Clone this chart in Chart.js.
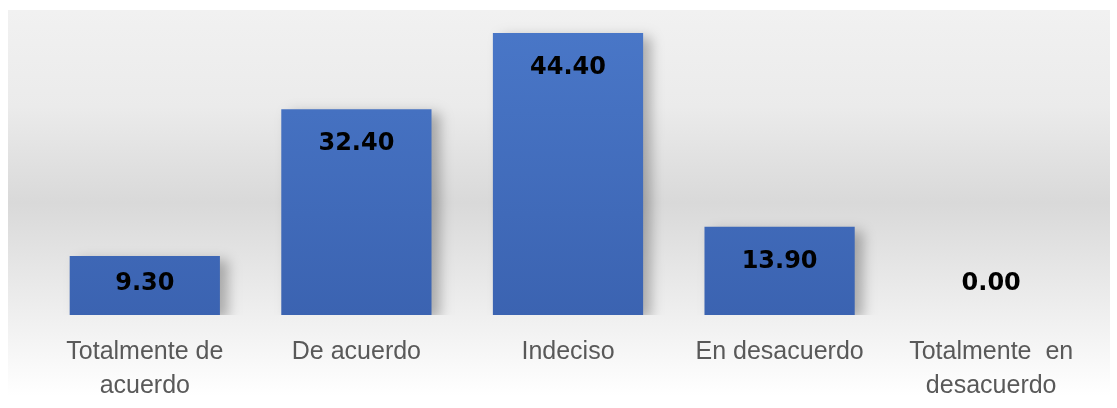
<!DOCTYPE html>
<html>
<head>
<meta charset="utf-8">
<script src="https://cdn.jsdelivr.net/npm/chart.js@4.4.1/dist/chart.umd.min.js"></script>
<style>
  html, body { margin: 0; padding: 0; background: #fff; }
  #wrap { width: 1117px; height: 408px; }
</style>
</head>
<body>
<div id="wrap"><canvas id="barChart"></canvas></div>
<script>
// datos del gráfico
const categorias = [
    ['Totalmente de', 'acuerdo'],
    'De acuerdo',
    'Indeciso',
    'En desacuerdo',
    ['Totalmente  en', 'desacuerdo']
];
const porcentajes = [9.30, 32.40, 44.40, 13.90, 0.00];

// fondo degradado gris detrás del gráfico
const fondoPlugin = {
    id: 'fondo',
    beforeDraw(chart) {
        const ctx = chart.ctx;
        const g = ctx.createLinearGradient(0, 10, 0, 396);
        g.addColorStop(0, '#f1f1f1');
        g.addColorStop(0.25, '#ebebeb');
        g.addColorStop(0.5, '#d9d9d9');
        g.addColorStop(0.75, '#ececec');
        g.addColorStop(1, '#ffffff');
        ctx.save();
        ctx.fillStyle = g;
        ctx.fillRect(8, 10, 1102, 386);
        ctx.restore();
    }
};

// sombra suave de las barras
const sombraPlugin = {
    id: 'sombra',
    beforeDatasetDraw(chart) {
        const ctx = chart.ctx;
        ctx.save();
        ctx.shadowColor = 'rgba(0,0,0,0.28)';
        ctx.shadowBlur = 12;
        ctx.shadowOffsetX = 8;
        ctx.shadowOffsetY = 4;
    },
    afterDatasetDraw(chart) {
        chart.ctx.restore();
    }
};

// etiquetas de valor dentro de las barras
const etiquetasPlugin = {
    id: 'etiquetas',
    afterDatasetsDraw(chart) {
        const ctx = chart.ctx;
        const meta = chart.getDatasetMeta(0);
        ctx.save();
        ctx.font = 'bold 24px "DejaVu Sans"';
        ctx.fillStyle = '#000000';
        ctx.textAlign = 'center';
        ctx.textBaseline = 'middle';
        meta.data.forEach((bar, i) => {
            const base = bar.base;
            const alto = base - bar.y;
            const y = alto < 70 ? base - 31 : bar.y + 35;
            ctx.fillText(porcentajes[i].toFixed(2), bar.x, y);
        });
        ctx.restore();
    }
};

document.addEventListener('DOMContentLoaded', () => {
    const ctx = document.getElementById('barChart').getContext('2d');
    new Chart(ctx, {
        type: 'bar',
        data: {
            labels: categorias,
            datasets: [{
                data: porcentajes,
                backgroundColor: (c) => {
                    const area = c.chart.chartArea;
                    if (!area) return '#4472c4';
                    const g = c.chart.ctx.createLinearGradient(0, area.top, 0, area.bottom);
                    g.addColorStop(0, '#4a78c9');
                    g.addColorStop(1, '#3b63b1');
                    return g;
                },
                borderWidth: 0,
                categoryPercentage: 1,
                barPercentage: 0.71
            }]
        },
        options: {
            responsive: true,
            maintainAspectRatio: false,
            animation: false,
            layout: { padding: { top: 10, left: 39, right: 20, bottom: -15 } },
            plugins: {
                legend: { display: false },
                tooltip: { enabled: false }
            },
            scales: {
                y: {
                    display: false,
                    min: 0,
                    max: 48
                },
                x: {
                    grid: { display: false, drawTicks: false },
                    border: { display: false },
                    ticks: {
                        color: '#595959',
                        padding: 20,
                        maxRotation: 0,
                        autoSkip: false,
                        font: { family: '"Liberation Sans"', size: 25, lineHeight: 1.36 }
                    }
                }
            }
        },
        plugins: [fondoPlugin, sombraPlugin, etiquetasPlugin]
    });
});
</script>
</body>
</html>
